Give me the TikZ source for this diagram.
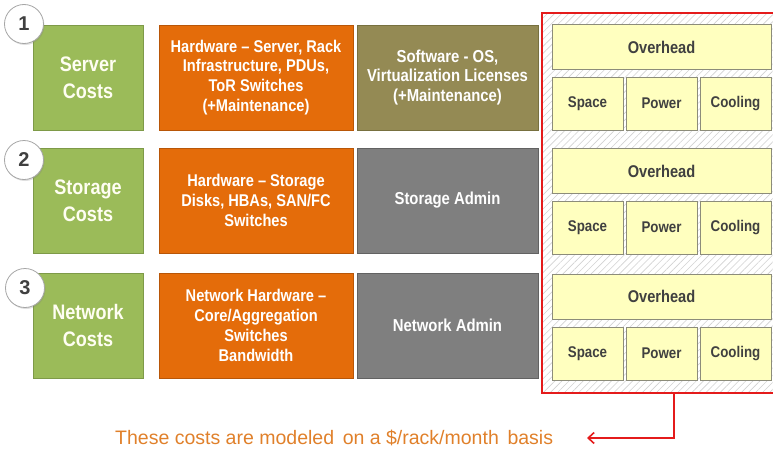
\documentclass[tikz,border=0pt]{standalone}
\usepackage{fontspec}
\setmainfont{Liberation Sans}
\newfontfamily\nf[FakeStretch=0.86,Ligatures=TeX]{Liberation Sans}
\usetikzlibrary{arrows.meta,patterns.meta,shadows}
\definecolor{cgreen}{HTML}{9BBB59}
\definecolor{cgreenb}{HTML}{7E9A48}
\definecolor{corange}{HTML}{E46C0A}
\definecolor{corangeb}{HTML}{B85608}
\definecolor{colive}{HTML}{948A54}
\definecolor{coliveb}{HTML}{77703F}
\definecolor{cgrey}{HTML}{7F7F7F}
\definecolor{cgreyb}{HTML}{626262}
\definecolor{cyel}{HTML}{FFFFBF}
\definecolor{cyelb}{HTML}{8C8C7A}
\definecolor{ctxt}{HTML}{404040}
\definecolor{cred}{HTML}{E41B1B}
\definecolor{cnote}{HTML}{E0802A}
\tikzset{
  x=1pt,y=-1pt,
  box/.style={draw, line width=0.8pt, text=white, align=center, inner sep=0pt,
    font=\nf\bfseries},
  greenbox/.style={box, fill=cgreen, draw=cgreenb, minimum width=110pt, minimum height=105pt,
    font=\nf\bfseries\fontsize{21}{27}\selectfont, text=white!95!yellow},
  orangebox/.style={box, fill=corange, draw=corangeb, minimum width=194pt, minimum height=105pt,
    font=\nf\bfseries\fontsize{17}{19.8}\selectfont},
  olivebox/.style={box, fill=colive, draw=coliveb, minimum width=181pt, minimum height=105pt,
    font=\nf\bfseries\fontsize{17.3}{19.8}\selectfont},
  greybox/.style={box, fill=cgrey, draw=cgreyb, minimum width=181pt, minimum height=105pt,
    font=\nf\bfseries\fontsize{17.3}{19.8}\selectfont},
  ybox/.style={draw=cyelb, fill=cyel, line width=0.8pt, text=ctxt, inner sep=0pt,
    font=\nf\bfseries\fontsize{15.5}{18}\selectfont},
  ovh/.style={ybox, minimum width=219pt, minimum height=45pt, font=\nf\bfseries\fontsize{17}{18}\selectfont},
  small/.style={ybox, minimum width=71pt, minimum height=53pt},
  numc/.style={circle, draw=gray!70, fill=white, line width=0.8pt, minimum size=39pt, inner sep=0pt,
    text=ctxt, font=\bfseries\fontsize{20}{20}\selectfont,
    drop shadow={shadow xshift=1pt, shadow yshift=-1.5pt, opacity=0.25}},
}
\begin{document}
\begin{tikzpicture}
\useasboundingbox (0,0) rectangle (773,455);
% hatched red frame
\fill[white] (542,13) rectangle (778,393);
\fill[pattern={Lines[angle=45,distance=5pt,line width=0.6pt]}, pattern color=gray!35] (542,13) rectangle (778,393);
\draw[cred, line width=1.6pt] (778,13) -- (542,13) -- (542,393) -- (778,393);
\coordinate (frameb) at (674,393);

% row 1
\node[greenbox] (g1) at (88,77.5) {Server\\Costs};
\node[orangebox] (o1) at (256,77.5) {Hardware – Server, Rack\\Infrastructure, PDUs,\\ToR Switches\\(+Maintenance)};
\node[olivebox] (s1) at (447.5,77.5) {Software - OS,\\Virtualization Licenses\\(+Maintenance)};
\node[ovh] (ov1) at (661.5,47) {Overhead};
\node[small] (sp1) at (587.5,103.5) {Space};
\node[small] (pw1) at (661.5,103.5) {Power};
\node[small] (co1) at (735.5,103.5) {Cooling};
\node[numc] (n1) at (24,24) {1};

% row 2
\node[greenbox] (g2) at (88,200.5) {Storage\\Costs};
\node[orangebox] (o2) at (256,200.5) {Hardware – Storage\\Disks, HBAs, SAN/FC\\Switches};
\node[greybox] (s2) at (447.5,200.5) {Storage Admin};
\node[ovh] (ov2) at (661.5,171) {Overhead};
\node[small] (sp2) at (587.5,227.5) {Space};
\node[small] (pw2) at (661.5,227.5) {Power};
\node[small] (co2) at (735.5,227.5) {Cooling};
\node[numc] (n2) at (24,160) {2};

% row 3
\node[greenbox] (g3) at (88,325.5) {Network\\Costs};
\node[orangebox] (o3) at (256,325.5) {Network Hardware –\\Core/Aggregation\\Switches\\Bandwidth};
\node[greybox] (s3) at (447.5,325.5) {Network Admin};
\node[ovh] (ov3) at (661.5,296.5) {Overhead};
\node[small] (sp3) at (587.5,353.5) {Space};
\node[small] (pw3) at (661.5,353.5) {Power};
\node[small] (co3) at (735.5,353.5) {Cooling};
\node[numc] (n3) at (25,288) {3};

% note
\node[text=cnote, font=\fontsize{19.5}{22}\selectfont, inner sep=0pt, anchor=west] (note) at (115,438) {These costs are modeled\, on a \$/rack/month\, basis};
\coordinate (tip) at (587,438);
\draw[cred, line width=1.6pt, -{Straight Barb[length=6pt,width=11pt,line width=1.6pt]}] (frameb) |- (tip);
\end{tikzpicture}
\end{document}
